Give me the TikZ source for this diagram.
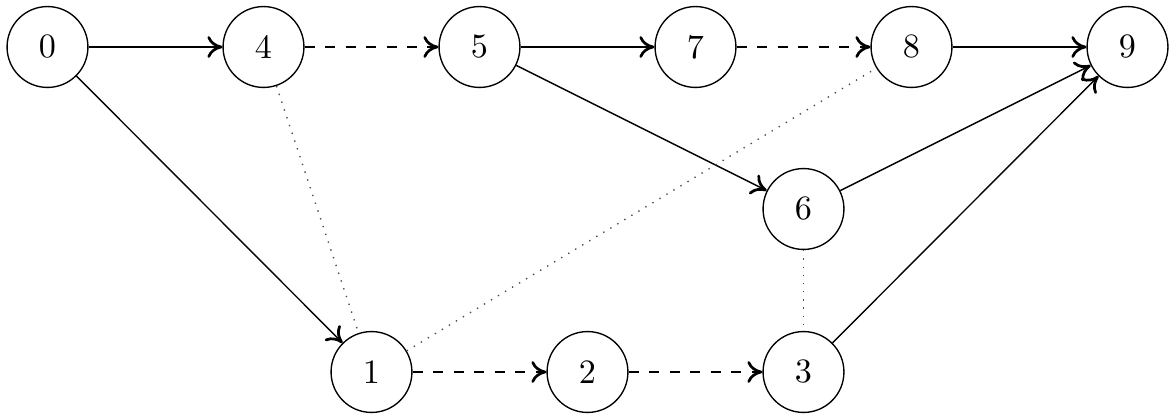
\documentclass[tikz,border=0pt]{standalone}
\usetikzlibrary{arrows.meta}
\begin{document}
\begin{tikzpicture}[x=0.293pt,y=-0.293pt,
  vtx/.style={circle,draw,line width=0.4pt,minimum size=23.7pt,inner sep=0pt,font=\fontsize{10}{12}\selectfont},
  arr/.style={-{Computer Modern Rightarrow[length=4.4pt,width=6.4pt,line width=0.8pt]},line width=0.4pt},
  dsh/.style={arr,dashed},
  dot/.style={dotted,line width=0.4pt,draw=black!70}]
\useasboundingbox (0,0) rectangle (1171,416);
\node[vtx] (n0) at (47.5,47) {0};
\node[vtx] (n4) at (263.5,47) {4};
\node[vtx] (n5) at (479.5,47) {5};
\node[vtx] (n7) at (695.5,47) {7};
\node[vtx] (n8) at (911.5,47) {8};
\node[vtx] (n9) at (1127.5,47) {9};
\node[vtx] (n6) at (803.5,209) {6};
\node[vtx] (n1) at (371.5,372) {1};
\node[vtx] (n2) at (587.5,372) {2};
\node[vtx] (n3) at (803.5,372) {3};
\draw[arr] (n0) -- (n4);
\draw[dsh] (n4) -- (n5);
\draw[arr] (n5) -- (n7);
\draw[dsh] (n7) -- (n8);
\draw[arr] (n8) -- (n9);
\draw[arr] (n0) -- (n1);
\draw[arr] (n5) -- (n6);
\draw[arr] (n6) -- (n9);
\draw[arr] (n3) -- (n9);
\draw[dsh] (n1) -- (n2);
\draw[dsh] (n2) -- (n3);
\draw[dot] (n4) -- (n1);
\draw[dot] (n1) -- (n8);
\draw[dot] (n6) -- (n3);
\end{tikzpicture}
\end{document}
